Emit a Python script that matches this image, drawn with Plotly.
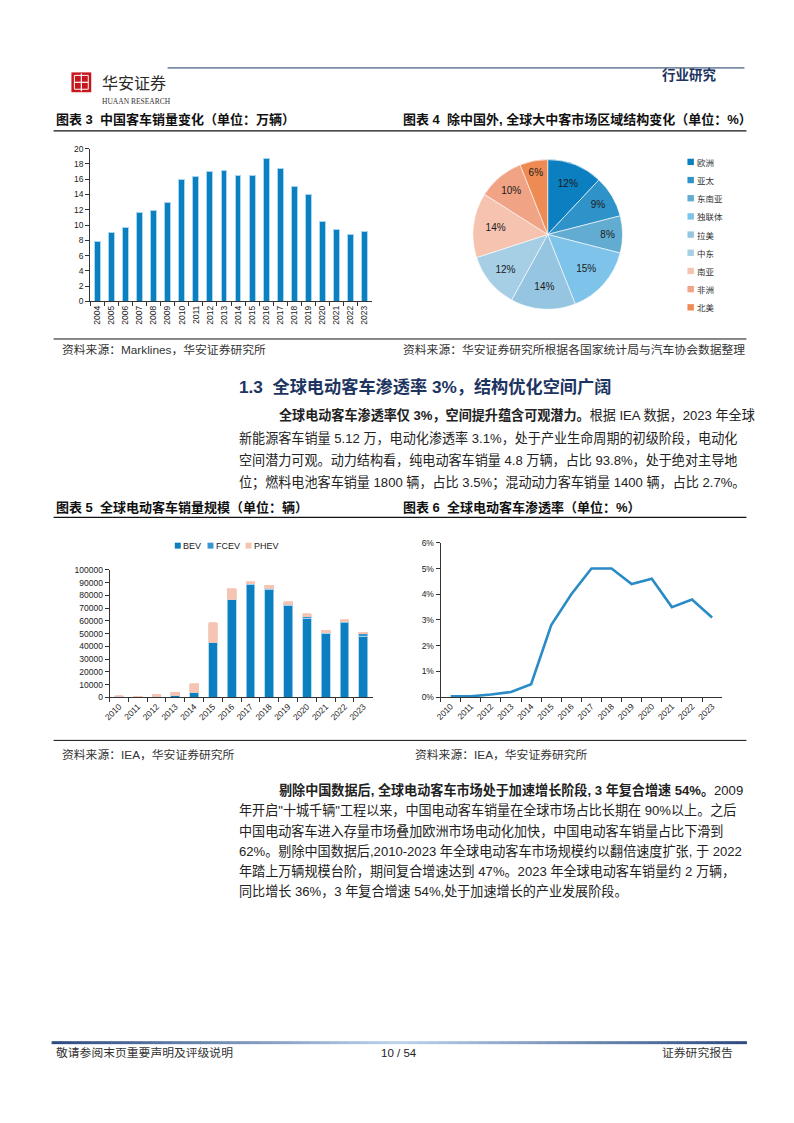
import plotly.graph_objects as go

W, H = 794, 1123
def px(x): return x / W
def py(y): return 1 - y / H

# ---------------- data ----------------
cn_years = ["2004","2005","2006","2007","2008","2009","2010","2011","2012","2013",
            "2014","2015","2016","2017","2018","2019","2020","2021","2022","2023"]
cn_sales = [7.9, 9.0, 9.7, 11.7, 11.9, 13.0, 15.9, 16.4, 17.0, 17.1,
            16.5, 16.5, 18.7, 17.4, 15.1, 14.0, 10.4, 9.4, 8.8, 9.2]

regions = ["欧洲","亚太","东南亚","独联体","拉美","中东","南亚","非洲","北美"]
region_share = [12, 9, 8, 15, 14, 12, 14, 10, 6]
region_colors = ["#0b7fbf","#2f92c9","#62acd2","#7dc3ea","#95c5e0","#a6cfe5","#f5c3b0","#f0a385","#ee8b55"]

ev_years = ["2010","2011","2012","2013","2014","2015","2016","2017","2018","2019","2020","2021","2022","2023"]
bev  = [1100, 200, 1000, 1500, 3800, 43000, 77000, 88800, 85000, 72400, 62300, 50200, 58400, 48000]
fcev = [0, 0, 0, 300, 200, 200, 200, 500, 800, 700, 900, 700, 1000, 1800]
phev = [100, 800, 1500, 2200, 6600, 15300, 8000, 1400, 2000, 2000, 2600, 1700, 1700, 1400]
ev_names = ["BEV", "FCEV", "PHEV"]
ev_colors = ["#0b7fbf", "#3797d0", "#f6c4b2"]

pen_years = ev_years
pen_rate = [0.03, 0.03, 0.1, 0.2, 0.5, 2.8, 4.0, 5.0, 5.0, 4.4, 4.6, 3.5, 3.8, 3.1]

LAT = "Liberation Sans, Arial, Noto Sans CJK SC"
CJK = "Liberation Sans, Noto Sans CJK SC"

fig = go.Figure()

# chart 3 bars
fig.add_trace(go.Bar(x=cn_years, y=cn_sales, xaxis="x", yaxis="y", width=0.42,
                     marker=dict(color="#0b80c1", line=dict(color="#a8d5f0", width=1)),
                     showlegend=False))

# chart 5 stacked bars
for name, vals, col in zip(ev_names, [bev, fcev, phev], ev_colors):
    fig.add_trace(go.Bar(x=ev_years, y=vals, name=name, xaxis="x2", yaxis="y2", width=0.47,
                         marker=dict(color=col, line=dict(color="#a8d5f0" if name != "PHEV" else col, width=0.8)),
                         showlegend=False))

# chart 6 line
fig.add_trace(go.Scatter(x=pen_years, y=pen_rate, xaxis="x3", yaxis="y3", mode="lines",
                         line=dict(color="#2a8bc6", width=2.6), showlegend=False))

# chart 4 pie
fig.add_trace(go.Pie(labels=regions, values=region_share, sort=False, direction="clockwise",
                     rotation=0, marker=dict(colors=region_colors, line=dict(color="white", width=0.6)),
                     texttemplate="%{value}%", textposition="inside", insidetextorientation="horizontal",
                     textfont=dict(family=LAT, size=10, color="#1a1a1a"),
                     domain=dict(x=[px(470), px(621)], y=[py(307), py(156)]),
                     showlegend=False, hoverinfo="label+percent"))

axis_common = dict(showline=True, linecolor="#333", linewidth=1, showgrid=False, zeroline=False,
                   ticks="outside", tickcolor="#333", ticklen=4, tickwidth=1)

fig.update_layout(
    width=W, height=H, margin=dict(l=0, r=0, t=0, b=0),
    paper_bgcolor="white", plot_bgcolor="white", barmode="stack", showlegend=False,
    font=dict(family=LAT, color="#222"),
    xaxis=dict(domain=[px(84), px(368)], anchor="y", type="category", range=[-0.5, 19.5],
               tickson="boundaries", tickangle=-90, tickfont=dict(size=8.5, family=LAT, color="#222"),
               **axis_common),
    yaxis=dict(domain=[py(299), py(145)], anchor="x", range=[0, 20], dtick=2,
               tickfont=dict(size=8.5, family=LAT, color="#222"), **axis_common),
    xaxis2=dict(domain=[px(103.5), px(369)], anchor="y2", type="category", range=[-0.5, 13.5],
                tickson="boundaries", tickangle=-45, tickfont=dict(size=8.5, family=LAT, color="#222"),
                **axis_common),
    yaxis2=dict(domain=[py(698.7), py(570)], anchor="x2", range=[0, 100000], dtick=10000,
                tickformat="d", tickfont=dict(size=8.5, family=LAT, color="#222"), **axis_common),
    xaxis3=dict(domain=[px(437.5), px(721.5)], anchor="y3", type="category", range=[-0.5, 13.5],
                tickson="boundaries", tickangle=-45, tickfont=dict(size=8.5, family=LAT, color="#222"),
                **axis_common),
    yaxis3=dict(domain=[py(698.3), py(542.7)], anchor="x3", range=[0, 6], dtick=1,
                ticksuffix="%", tickfont=dict(size=8.5, family=LAT, color="#222"), **axis_common),
)

shapes = []
annots = []

def line(x0, x1, y, color="#111", width=1):
    shapes.append(dict(type="line", xref="paper", yref="paper", x0=px(x0), x1=px(x1),
                       y0=py(y), y1=py(y), line=dict(color=color, width=width)))

def rect(x0, y0, x1, y1, color, lw=0, lc=None):
    shapes.append(dict(type="rect", xref="paper", yref="paper", x0=px(x0), x1=px(x1),
                       y0=py(y1), y1=py(y0), fillcolor=color,
                       line=dict(width=lw, color=lc or color)))

def text(x, y, s, size=11, color="#222", family=CJK, anchor="left"):
    annots.append(dict(xref="paper", yref="paper", x=px(x), y=py(y), text=s, showarrow=False,
                       xanchor=anchor, yanchor="middle", font=dict(size=size, color=color, family=family)))

# ---------- header ----------
line(162, 744, 63.5, color="#1d3461", width=1)
rect(65, 68, 85, 88, "#c8161d")
rect(68, 71, 82, 85, "rgba(0,0,0,0)", lw=1, lc="white")
shapes.append(dict(type="line", xref="paper", yref="paper", x0=px(75), x1=px(75), y0=py(69), y1=py(87),
                   line=dict(color="white", width=1.2)))
shapes.append(dict(type="line", xref="paper", yref="paper", x0=px(68), x1=px(82), y0=py(78), y1=py(78),
                   line=dict(color="white", width=1.2)))
text(94, 78, "华安证券", size=16, color="#2a2a2a", family="Noto Sans CJK SC")
text(94, 97, "HUAAN RESEARCH", size=7.5, color="#333", family="Liberation Serif")
text(718, 71, "<b>行业研究</b>", size=13.5, color="#1d3461", anchor="right")

# ---------- chart 3/4 titles ----------
text(47, 116, "<b>图表 3  中国客车销量变化（单位：万辆）</b>", size=13, color="#111")
text(398, 116, "<b>图表 4  除中国外, 全球大中客市场区域结构变化（单位：%）</b>", size=13, color="#111")
line(47, 746, 127, width=1.2)
line(47, 746, 337, width=1)
text(53, 348, "资料来源：Marklines，华安证券研究所", size=11.8, color="#333")
text(398, 348, "资料来源：华安证券研究所根据各国家统计局与汽车协会数据整理", size=11.8, color="#333")

# pie legend
for i, (name, col) in enumerate(zip(regions, region_colors)):
    yc = 158.3 + i * 18.34
    rect(686.5, yc - 3.2, 693, yc + 3.2, col)
    text(694.5, yc, name, size=8.5, color="#333", family="Noto Sans CJK SC")

# ---------- section heading + paragraph ----------
text(232, 385, "<b>1.3  全球电动客车渗透率 3%，结构优化空间广阔</b>", size=17.2, color="#1d3461")
p1 = [
    (272, "<b>全球电动客车渗透率仅 3%，空间提升蕴含可观潜力。</b>根据 IEA 数据，2023 年全球"),
    (232, "新能源客车销量 5.12 万，电动化渗透率 3.1%，处于产业生命周期的初级阶段，电动化"),
    (232, "空间潜力可观。动力结构看，纯电动客车销量 4.8 万辆，占比 93.8%，处于绝对主导地"),
    (232, "位；燃料电池客车销量 1800 辆，占比 3.5%；混动动力客车销量 1400 辆，占比 2.7%。"),
]
for i, (x, s) in enumerate(p1):
    text(x, 414 + i * 22.6, s, size=13.1, color="#222")

# ---------- chart 5/6 titles ----------
text(47, 507, "<b>图表 5  全球电动客车销量规模（单位：辆）</b>", size=13, color="#111")
text(398, 507, "<b>图表 6  全球电动客车渗透率（单位：%）</b>", size=13, color="#111")
line(47, 746, 517, width=1.2)
line(47, 746, 742, width=1)
text(53, 757, "资料来源：IEA，华安证券研究所", size=11.8, color="#333")
text(410, 757, "资料来源：IEA，华安证券研究所", size=11.8, color="#333")

# chart 5 legend
leg_x = [169.3, 202.3, 240.7]
for xs, name, col in zip(leg_x, ev_names, ev_colors):
    rect(xs, 542.5, xs + 6, 548.5, col)
    text(xs + 6.5, 545.7, name, size=9, color="#222", family=LAT)

# ---------- paragraph 2 ----------
p2 = [
    (272, "<b>剔除中国数据后, 全球电动客车市场处于加速增长阶段, 3 年复合增速 54%。</b>2009"),
    (232, "年开启\"十城千辆\"工程以来，中国电动客车销量在全球市场占比长期在 90%以上。之后"),
    (232, "中国电动客车进入存量市场叠加欧洲市场电动化加快，中国电动客车销量占比下滑到"),
    (232, "62%。剔除中国数据后,2010-2023 年全球电动客车市场规模约以翻倍速度扩张, 于 2022"),
    (232, "年踏上万辆规模台阶，期间复合增速达到 47%。2023 年全球电动客车销量约 2 万辆，"),
    (232, "同比增长 36%，3 年复合增速 54%,处于加速增长的产业发展阶段。"),
]
for i, (x, s) in enumerate(p2):
    text(x, 792 + i * 20.5, s, size=13.1, color="#222")

# ---------- footer ----------
n = 70
x0, x1 = 45, 746
c_end = (43, 74, 128)
c_mid = (190, 212, 236)
for i in range(n):
    t = (i + 0.5) / n
    f = 1 - abs(2 * t - 1)
    c = tuple(int(c_end[k] + (c_mid[k] - c_end[k]) * f) for k in range(3))
    xa = x0 + (x1 - x0) * i / n
    xb = x0 + (x1 - x0) * (i + 1) / n + 0.5
    rect(xa, 1045.5, xb, 1048.5, "rgb(%d,%d,%d)" % c)
text(47, 1057, "敬请参阅末页重要声明及评级说明", size=11.8, color="#333")
text(395, 1057, "10 / 54", size=11.5, color="#222", family=LAT, anchor="center")
text(734, 1057, "证券研究报告", size=11.8, color="#333", anchor="right")

fig.update_layout(shapes=shapes, annotations=annots)
fig.write_html("out.html", config={"displayModeBar": False},
               post_script="document.body.style.margin='0';document.body.style.overflow='hidden';")
